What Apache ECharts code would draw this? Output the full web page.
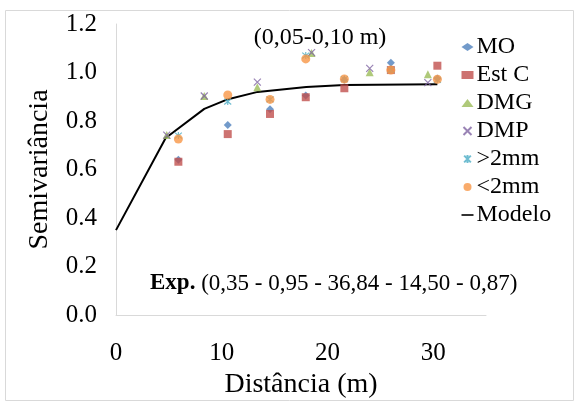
<!DOCTYPE html>
<html><head><meta charset="utf-8">
<script src="https://cdn.jsdelivr.net/npm/echarts@6/dist/echarts.min.js"></script>
<style>html,body{margin:0;padding:0;background:#fff}#c{width:579px;height:407px}</style>
</head><body><div id="c"></div>
<script>
const xTicks = [0, 10, 20, 30];
const yTicks = [0, 0.2, 0.4, 0.6, 0.8, 1.0, 1.2];

const lagA = [5.9, 10.57, 14.57, 17.95, 21.6, 26.0, 30.4];
const lagB = [4.8, 8.35, 13.37, 18.5, 24.0, 29.5];

const moVals   = [0.64, 0.784, 0.848, 0.905, 0.97, 1.04, 0.975];
const estCVals = [0.632, 0.746, 0.829, 0.898, 0.935, 1.01, 1.028];
const dmgVals  = [0.742, 0.903, 0.939, 1.08, 1.001, 0.993];
const dmpVals  = [0.742, 0.903, 0.96, 1.082, 1.017, 0.958];
const gt2Vals  = [0.74, 0.88, 0.889, 1.07, 0.973, 1.01, 0.97];
const lt2Vals  = [0.726, 0.907, 0.889, 1.056, 0.973, 1.01, 0.972];

const modelX = [0, 4.7, 8.35, 10.6, 13.4, 18.0, 21.6, 30.4];
const modelY = [0.35, 0.73, 0.85, 0.89, 0.92, 0.94, 0.948, 0.952];

const pair = (xs, ys) => xs.map((x, i) => [x, ys[i]]);
const FONT = 'Liberation Serif';
const crossPath = 'path://M0,0L10,10M10,0L0,10';
const starPath = 'path://M0,0L10,10M10,0L0,10M5,-1L5,11';

const chart = echarts.init(document.getElementById('c'));
chart.setOption({
  animation: false,
  textStyle: {fontFamily: FONT, color: '#000'},
  title: {
    text: '(0,05-0,10 m)', left: 315, top: 21, textAlign: 'center',
    textStyle: {fontFamily: FONT, fontSize: 24, fontWeight: 'normal', color: '#000'}
  },
  graphic: [
    {type: 'rect', shape: {x: 5.5, y: 10.5, width: 568, height: 390},
     style: {fill: 'none', stroke: '#d9d9d9', lineWidth: 1}, silent: true},
    {type: 'text', left: 150, top: 272,
     style: {
       text: '{b|Exp.} (0,35 - 0,95 - 36,84 - 14,50 - 0,87)',
       font: '23px "Liberation Serif"', fill: '#000',
       rich: {b: {fontWeight: 'bold', fontSize: 23, fontFamily: FONT}}
     }}
  ],
  legend: {
    orient: 'vertical', left: 456, top: 30, itemGap: 4,
    itemWidth: 12, itemHeight: 8,
    textStyle: {fontFamily: FONT, fontSize: 24, lineHeight: 24, color: '#000', padding: [0, 0, 0, -2]},
    data: [
      {name: 'MO', icon: 'diamond'},
      {name: 'Est C', icon: 'rect'},
      {name: 'DMG', icon: 'triangle'},
      {name: 'DMP', icon: crossPath},
      {name: '>2mm', icon: starPath},
      {name: '<2mm', icon: 'circle'},
      {name: 'Modelo', icon: 'path://M0,0H12V1.6H0Z'}
    ]
  },
  grid: {left: 116, right: 93, top: 24, bottom: 92},
  xAxis: {
    type: 'value', min: 0, max: 35, interval: 10,
    name: 'Distância (m)', nameLocation: 'middle', nameGap: 54,
    nameTextStyle: {fontFamily: FONT, fontSize: 28, color: '#000'},
    axisLine: {show: true, lineStyle: {color: '#d9d9d9'}},
    axisTick: {show: false}, splitLine: {show: false},
    axisLabel: {fontFamily: FONT, fontSize: 25, color: '#000', margin: 26,
      customValues: xTicks}
  },
  yAxis: {
    type: 'value', min: 0, max: 1.2, interval: 0.2,
    name: 'Semivariância', nameLocation: 'middle', nameGap: 62,
    nameTextStyle: {fontFamily: FONT, fontSize: 28, color: '#000'},
    axisLine: {show: true, lineStyle: {color: '#d9d9d9'}},
    axisTick: {show: false}, splitLine: {show: false},
    axisLabel: {fontFamily: FONT, fontSize: 25, color: '#000', margin: 19,
      formatter: v => v.toFixed(1)}
  },
  series: [
    {name: 'MO', type: 'scatter', symbol: 'diamond', symbolSize: 8,
     itemStyle: {color: '#4F81BD'}, data: pair(lagA, moVals)},
    {name: 'Est C', type: 'scatter', symbol: 'rect', symbolSize: 8,
     itemStyle: {color: '#C0504D'}, data: pair(lagA, estCVals)},
    {name: 'DMG', type: 'scatter', symbol: 'triangle', symbolSize: 8,
     itemStyle: {color: '#9BBB59'}, data: pair(lagB, dmgVals)},
    {name: 'DMP', type: 'scatter', symbol: crossPath, symbolSize: 7,
     itemStyle: {color: 'none', borderColor: '#8064A2', borderWidth: 1.2}, data: pair(lagB, dmpVals)},
    {name: '>2mm', type: 'scatter', symbol: starPath, symbolSize: 7,
     itemStyle: {color: 'none', borderColor: '#4BACC6', borderWidth: 1.2}, data: pair(lagA, gt2Vals)},
    {name: '<2mm', type: 'scatter', symbol: 'circle', symbolSize: 9,
     itemStyle: {color: '#F79646'}, data: pair(lagA, lt2Vals)},
    {name: 'Modelo', type: 'line', showSymbol: false, symbol: 'none',
     lineStyle: {color: '#000', width: 2}, itemStyle: {color: '#000'},
     data: pair(modelX, modelY), z: 1}
  ]
});
</script></body></html>
